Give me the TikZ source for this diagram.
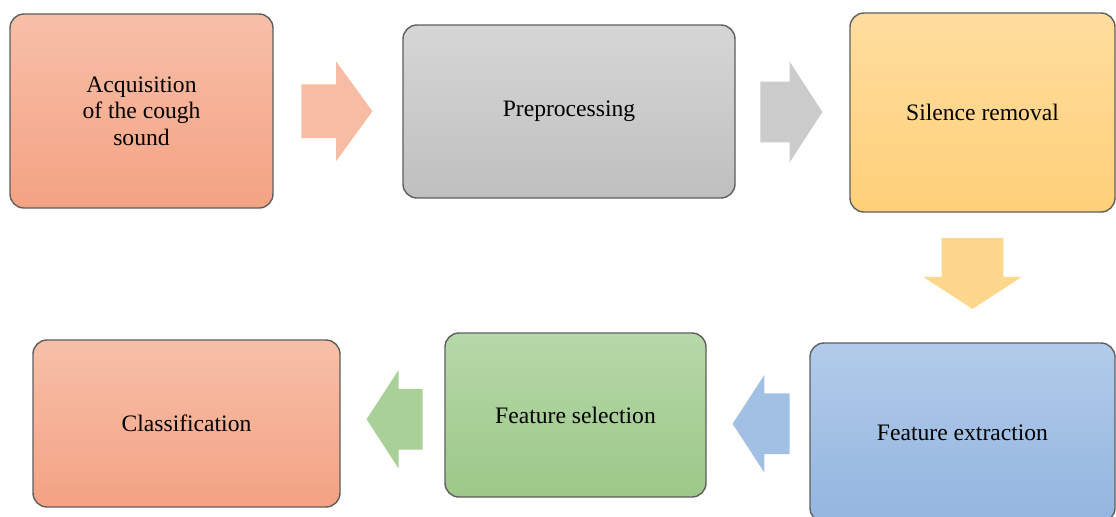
\documentclass[tikz,border=0pt]{standalone}
\usepackage{fontspec}
\setmainfont{Liberation Serif}
\usetikzlibrary{shapes.arrows,calc}
\definecolor{salmontop}{HTML}{F7BFA8}
\definecolor{salmonbot}{HTML}{F4A283}
\definecolor{greytop}{HTML}{D6D6D6}
\definecolor{greybot}{HTML}{BFBFBF}
\definecolor{yellowtop}{HTML}{FFDD9F}
\definecolor{yellowbot}{HTML}{FFD079}
\definecolor{bluetop}{HTML}{B2CBEA}
\definecolor{bluebot}{HTML}{93B5DF}
\definecolor{greentop}{HTML}{B7D8A9}
\definecolor{greenbot}{HTML}{9CC888}
\definecolor{boxline}{HTML}{5E5E5E}

\begin{document}
\begin{tikzpicture}[x=0.5pt,y=-0.5pt,
        box/.style={draw=boxline,line width=0.7pt,rounded corners=7pt,align=center,
            font=\fontsize{11.8}{13.2}\selectfont,inner sep=0pt},
        blockarrow/.style={single arrow,anchor=tail,inner xsep=0pt,inner ysep=15pt,single arrow tip angle=114}]
            \useasboundingbox (0,0) rectangle (1116,516);

            % process boxes
            \node[box,top color=salmontop,bottom color=salmonbot,minimum width=131.5pt,minimum height=97pt]
                (acq) at (141.5,111) {Acquisition\\of the cough\\sound};
            \node[box,top color=greytop,bottom color=greybot,minimum width=166pt,minimum height=86.5pt]
                (pre) at (569,111.5) {Preprocessing};
            \node[box,top color=yellowtop,bottom color=yellowbot,minimum width=132.5pt,minimum height=99.5pt]
                (sil) at (982.5,112.5) {Silence removal};
            \node[box,top color=bluetop,bottom color=bluebot,minimum width=152.5pt,minimum height=89.5pt]
                (ext) at (962.5,432.5) {Feature extraction};
            \node[box,top color=greentop,bottom color=greenbot,minimum width=130.5pt,minimum height=82pt]
                (sel) at (575.5,415) {Feature selection};
            \node[box,top color=salmontop,bottom color=salmonbot,minimum width=153.5pt,minimum height=83.5pt]
                (cls) at (186.5,423.5) {Classification};

            % block arrows between the steps
            \node[blockarrow,fill=salmontop!90!salmonbot,minimum height=35.5pt,inner ysep=13.25pt,
                single arrow head extend=11.5pt,single arrow tip angle=108,xshift=-18.5pt]
                (a1) at ($(acq.east)!0.5!(pre.west)$) {};
            \node[blockarrow,fill=greytop!50!greybot,minimum height=31pt,
                single arrow head extend=10pt,xshift=-16.25pt]
                (a2) at ($(pre.east)!0.5!(sil.west)$) {};
            \node[blockarrow,fill=yellowtop!50!yellowbot,minimum height=35.5pt,inner xsep=15.25pt,inner ysep=0pt,
                single arrow head extend=9.25pt,shape border rotate=270,yshift=20pt]
                (a3) at ($(sil.south)!0.5!(ext.north)$) {};
            \node[blockarrow,fill=bluetop!50!bluebot,minimum height=28.5pt,
                single arrow head extend=9.25pt,shape border rotate=180,xshift=16pt]
                (a4) at ($(sel.east)!0.5!(ext.west)$) {};
            \node[blockarrow,fill=greentop!50!greenbot,minimum height=28pt,
                single arrow head extend=9.5pt,shape border rotate=180,xshift=15.25pt]
                (a5) at ($(cls.east)!0.5!(sel.west)$) {};
        \end{tikzpicture}
\end{document}
